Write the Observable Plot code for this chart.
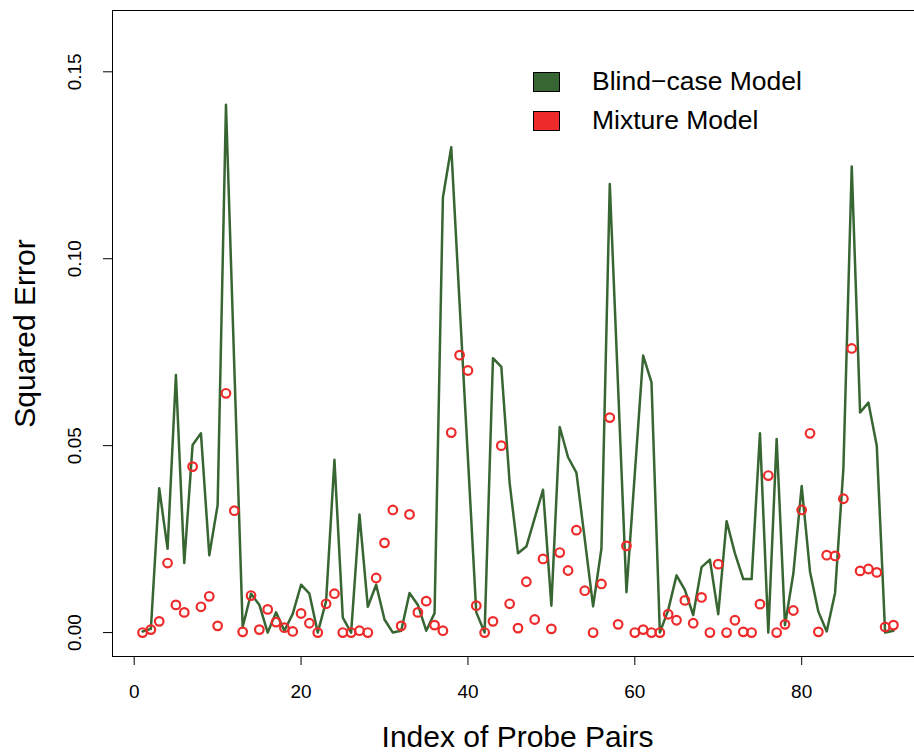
<!DOCTYPE html>
<html><head><meta charset="utf-8">
<script src="https://cdn.jsdelivr.net/npm/d3@7"></script>
<script src="https://cdn.jsdelivr.net/npm/@observablehq/plot@0.6"></script>
<style>
html,body{margin:0;padding:0;background:#fff;overflow:hidden}
#wrap{position:relative;width:914px;height:753px}
#wrap svg{overflow:hidden;display:block}
.leg{position:absolute;font-family:"Liberation Sans",Arial,sans-serif;font-size:26.5px;color:#000;line-height:26.5px;white-space:nowrap}
.sw{position:absolute;box-sizing:border-box;width:27px;height:20px;border:1px solid #000}
</style></head><body><div id="wrap"></div>
<script>
const probeIndex = [1,2,3,4,5,6,7,8,9,10,11,12,13,14,15,16,17,18,19,20,21,22,23,24,25,26,27,28,29,30,31,32,33,34,35,36,37,38,39,40,41,42,43,44,45,46,47,48,49,50,51,52,53,54,55,56,57,58,59,60,61,62,63,64,65,66,67,68,69,70,71,72,73,74,75,76,77,78,79,80,81,82,83,84,85,86,87,88,89,90,91];
const blindCase = [0.0003,0.001,0.0386,0.0224,0.0689,0.0186,0.0502,0.0533,0.0207,0.0341,
  0.1412,0.071,0.0015,0.0104,0.0074,0.0,0.0054,0.0005,0.005,0.0128,
  0.0104,0.0,0.0084,0.0462,0.004,0.0,0.0316,0.0069,0.0128,0.0035,
  0.0,0.0005,0.0106,0.0074,0.0005,0.0052,0.1164,0.1298,0.088,0.0466,
  0.0054,0.0,0.0734,0.0711,0.04,0.0212,0.023,0.0306,0.0382,0.0072,
  0.055,0.0469,0.0428,0.025,0.007,0.0225,0.12,0.0655,0.0108,0.0425,
  0.0741,0.0669,0.0,0.006,0.0153,0.0114,0.0047,0.0175,0.0195,0.0049,
  0.0298,0.0212,0.0143,0.0143,0.0533,0.0,0.0518,0.002,0.0158,0.0392,
  0.0163,0.0056,0.0003,0.0106,0.0439,0.1247,0.0589,0.0615,0.05,0.0,
  0.0005];
const mixture = [0,0.0008,0.003,0.0186,0.0074,0.0054,0.0444,0.0069,0.0097,0.0018,
  0.064,0.0326,0.0002,0.0099,0.0008,0.0062,0.0028,0.0013,0.0003,0.0051,
  0.0025,0,0.0077,0.0104,0,0,0.0005,0,0.0146,0.024,
  0.0328,0.0018,0.0316,0.0054,0.0084,0.002,0.0005,0.0535,0.0742,0.0701,
  0.0072,0,0.003,0.05,0.0077,0.0012,0.0136,0.0035,0.0197,0.001,
  0.0214,0.0166,0.0274,0.0112,0,0.013,0.0575,0.0022,0.0232,0,
  0.0008,0,0,0.0049,0.0033,0.0086,0.0025,0.0094,0,0.0183,
  0,0.0033,0.0002,0,0.0076,0.042,0,0.0022,0.0059,0.0328,
  0.0533,0.0002,0.0207,0.0205,0.0358,0.076,0.0165,0.017,0.0161,0.0015,
  0.002];
const xTicks = [0,20,40,60,80];
const yTicks = [0.00,0.05,0.10,0.15];
const yTickLabels = ["0.00","0.05","0.10","0.15"];
const seriesNames = ["Blind\u2212case Model","Mixture Model"];
const seriesColors = ["#386633","#ee2a2a"];
const xDomain = [-2.6, 94.6];
const yDomain = [-0.0064, 0.1664];

const rows = probeIndex.map((idx, i) => ({index: idx, blind: blindCase[i], mixture: mixture[i]}));
const font = "Liberation Sans, Arial, Helvetica, sans-serif";

const chart = Plot.plot({
  width: 914, height: 753,
  marginLeft: 112, marginRight: 0, marginTop: 10, marginBottom: 97,
  style: {fontFamily: font, background: "#fff", color: "#000", overflow: "hidden"},
  x: {domain: xDomain, range: [112, 923]},
  y: {domain: yDomain},
  marks: [
    Plot.ruleY(yDomain, {stroke: "#000", strokeWidth: 1}),
    Plot.ruleX([xDomain[0]], {stroke: "#000", strokeWidth: 1}),
    Plot.axisX({ticks: xTicks, tickSize: 9, tickPadding: 19, fontSize: 19, label: null, tickFormat: d => String(d)}),
    Plot.axisY({ticks: yTicks, tickSize: 9, tickFormat: () => "", label: null}),
    Plot.text(yTicks, {y: d => d, text: (d, i) => yTickLabels[i], frameAnchor: "left", dx: -38, rotate: -90, fontSize: 19, textAnchor: "middle", lineAnchor: "middle"}),
    Plot.line(rows, {x: "index", y: "blind", stroke: seriesColors[0], strokeWidth: 2.5}),
    Plot.dot(rows, {x: "index", y: "mixture", r: 4.3, stroke: seriesColors[1], strokeWidth: 2.2, fill: "none"}),
    Plot.text(["Index of Probe Pairs"], {frameAnchor: "bottom", dx: 4, dy: 90, fontSize: 30, textAnchor: "middle"}),
    Plot.text(["Squared Error"], {frameAnchor: "left", dx: -87, rotate: -90, fontSize: 30, textAnchor: "middle", lineAnchor: "middle"})
  ]
});
const wrap = document.getElementById("wrap");
wrap.appendChild(chart);

// legend overlay
const legTops = [72, 111];
const textTops = [67.6, 107.1];
seriesNames.forEach((name, i) => {
  const sw = document.createElement("div");
  sw.className = "sw";
  sw.style.left = "533px";
  sw.style.top = legTops[i] + "px";
  sw.style.background = seriesColors[i];
  wrap.appendChild(sw);
  const t = document.createElement("div");
  t.className = "leg";
  t.style.left = "592px";
  t.style.top = textTops[i] + "px";
  t.textContent = name;
  wrap.appendChild(t);
});
</script></body></html>
